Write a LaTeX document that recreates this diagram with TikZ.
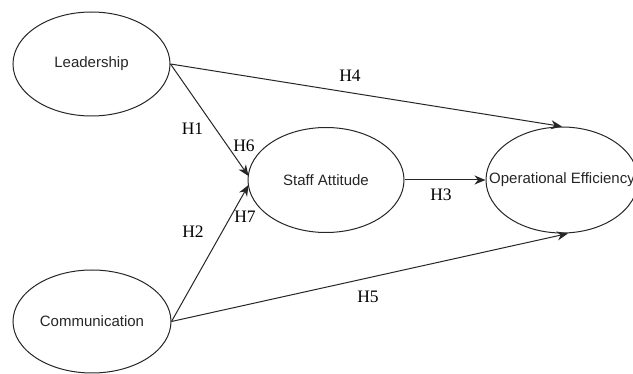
\documentclass[tikz,border=0pt]{standalone}
\usepackage{fontspec}
\setmainfont{Liberation Serif}
\newfontfamily\nodefont{Liberation Sans}
\usetikzlibrary{shapes.geometric,arrows.meta,calc}
\begin{document}
\begin{tikzpicture}[x=1pt,y=-1pt,
  construct/.style={ellipse,draw=black!85,line width=1pt,inner sep=0pt,font=\nodefont\fontsize{15}{17}\selectfont,text=black!85},
  link/.style={draw=black!85,line width=1pt,-{Stealth[length=11pt,width=9pt,inset=3.5pt]}},
  hyp/.style={font=\fontsize{17.5}{19}\selectfont,inner sep=0pt}]
\useasboundingbox (0,0) rectangle (633,374);
\node[construct,minimum width=157pt,minimum height=104pt] (lead) at (91.5,64) {Leadership};
\node[construct,minimum width=158pt,minimum height=103pt] (comm) at (92,321.5) {Communication};
\node[construct,minimum width=156pt,minimum height=105pt] (staff) at (326,180) {Staff Attitude};
\node[construct,minimum width=152pt,minimum height=106pt] (oe) at (562,180) {};
\node[font=\nodefont\fontsize{15}{17}\selectfont,text=black!85,inner sep=0pt] (oetext) at (oe.center) {Operational Efficiency};
\coordinate (s1) at ($(staff.west)+(1,-4)$);
\coordinate (s2) at ($(staff.west)+(1,5)$);
\coordinate (o5) at ($(oe.south)+(6,0)$);
\draw[link] (lead.east) -- (s1);
\draw[link] (comm.east) -- (s2);
\draw[link] (lead.east) -- (oe.north);
\draw[link] (comm.east) -- (o5);
\draw[link] (staff.east) -- (oe.west);
\node[hyp] (h1) at (192.5,129) {H1};
\node[hyp] (h6) at (244,146) {H6};
\node[hyp] (h2) at (193,232) {H2};
\node[hyp] (h7) at (245,217) {H7};
\node[hyp] (h4) at (350,76) {H4};
\node[hyp] (h3) at (441,195) {H3};
\node[hyp] (h5) at (368,297) {H5};
\end{tikzpicture}
\end{document}
